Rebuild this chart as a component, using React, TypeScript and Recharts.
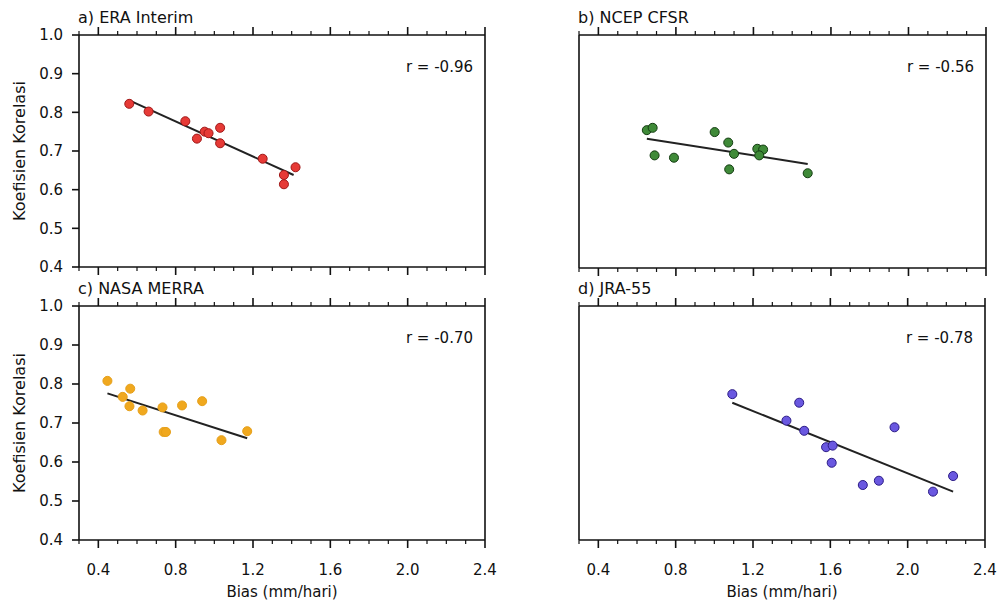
import { ReferenceLine, Scatter, ScatterChart, XAxis, YAxis } from "recharts";

const majorX = [0.4, 0.8, 1.2, 1.6, 2.0, 2.4];
const minorX = [
  0.3, 0.4, 0.5, 0.6, 0.7, 0.8, 0.9, 1.0, 1.1, 1.2, 1.3, 1.4, 1.5, 1.6, 1.7,
  1.8, 1.9, 2.0, 2.1, 2.2, 2.3, 2.4,
];
const yTicks = [0.4, 0.5, 0.6, 0.7, 0.8, 0.9, 1.0];

// a) ERA Interim
const eraBias = [0.56, 0.66, 0.85, 0.91, 0.95, 0.97, 1.03, 1.03, 1.25, 1.36, 1.36, 1.42];
const eraCorr = [0.822, 0.802, 0.777, 0.732, 0.75, 0.746, 0.76, 0.72, 0.68, 0.638, 0.614, 0.658];
const eraFitBias = [0.56, 1.41];
const eraFitCorr = [0.831, 0.638];

// b) NCEP CFSR
const cfsrBias = [0.65, 0.68, 0.69, 0.79, 1.0, 1.07, 1.1, 1.075, 1.22, 1.25, 1.23, 1.48];
const cfsrCorr = [0.755, 0.761, 0.69, 0.684, 0.75, 0.723, 0.694, 0.654, 0.707, 0.705, 0.69, 0.644];
const cfsrFitBias = [0.65, 1.48];
const cfsrFitCorr = [0.733, 0.668];

// c) NASA MERRA
const merraBias = [0.447, 0.565, 0.526, 0.561, 0.629, 0.732, 0.833, 0.937, 0.738, 0.75, 1.037, 1.17];
const merraCorr = [0.808, 0.788, 0.767, 0.743, 0.732, 0.74, 0.745, 0.756, 0.677, 0.677, 0.656, 0.679];
const merraFitBias = [0.447, 1.17];
const merraFitCorr = [0.776, 0.661];

// d) JRA-55
const jraBias = [1.093, 1.439, 1.373, 1.465, 1.578, 1.612, 1.607, 1.932, 1.768, 1.851, 2.131, 2.235];
const jraCorr = [0.774, 0.752, 0.706, 0.68, 0.638, 0.642, 0.598, 0.689, 0.541, 0.552, 0.524, 0.564];
const jraFitBias = [1.093, 2.235];
const jraFitCorr = [0.752, 0.524];

const FONT = "DejaVu Sans";
const INK = "#111";
const LEFT = 79;
const EDGE = 10;

type PanelProps = {
  left: number;
  top: number;
  width: number;
  height: number;
  plotTop: number;
  plotBottom: number;
  plotRight: number;
  title: string;
  r: string;
  bias: number[];
  corr: number[];
  fitBias: number[];
  fitCorr: number[];
  fill: string;
  stroke: string;
  xLabels: boolean;
  yLabels: boolean;
};

// draws minor/major tick marks along a horizontal edge, labels on majors
function xTick(edgeY: number, dir: number, labels: boolean) {
  return (props: any) => {
    const { x, payload } = props;
    const v = Number(payload.value);
    const major = majorX.some((m) => Math.abs(m - v) < 1e-6);
    const len = major ? 8 : 4;
    return (
      <g>
        <line x1={x} x2={x} y1={edgeY} y2={edgeY + dir * len} stroke={INK}
          strokeWidth={major ? 1.6 : 1.2} />
        {major && labels && (
          <text x={x} y={edgeY + 35} textAnchor="middle" fontSize={15} fill={INK}
            fontFamily={FONT}>{v.toFixed(1)}</text>
        )}
      </g>
    );
  };
}

function Panel(p: PanelProps) {
  const data = p.bias.map((b, i) => ({ bias: b, corr: p.corr[i] }));
  const segment = p.fitBias.map((b, i) => ({ x: b, y: p.fitCorr[i] }));
  const bottomSpace = p.height - p.plotBottom;
  const centerX = LEFT + (p.width - p.plotRight - LEFT) / 2;
  const centerY = (p.plotTop + p.plotBottom) / 2;
  const tickStyle = { fontSize: 15, fill: INK, fontFamily: FONT };
  const frame = { stroke: INK, strokeWidth: 1.6 };

  return (
    <div style={{ position: "absolute", left: p.left, top: p.top, width: p.width, height: p.height }}>
      <ScatterChart
        width={p.width}
        height={p.height}
        margin={{ top: p.plotTop - EDGE, right: p.plotRight - EDGE, bottom: 0, left: 0 }}
      >
        <XAxis xAxisId="bottom" type="number" dataKey="bias" domain={[0.3, 2.4]} ticks={minorX}
          height={bottomSpace} tickLine={false} axisLine={frame}
          tick={xTick(p.plotBottom, 1, p.xLabels)} interval={0} allowDataOverflow />
        <XAxis xAxisId="top" orientation="top" type="number" dataKey="bias" domain={[0.3, 2.4]}
          ticks={minorX} height={EDGE} tickLine={false} axisLine={frame}
          tick={xTick(p.plotTop, -1, false)} interval={0} allowDataOverflow />
        <YAxis yAxisId="left" type="number" dataKey="corr" domain={[0.4, 1.0]} ticks={yTicks}
          width={LEFT} tickSize={7} tickMargin={9} interval={0}
          tick={p.yLabels ? tickStyle : false}
          tickFormatter={(v: number) => v.toFixed(1)}
          axisLine={frame} tickLine={frame} allowDataOverflow />
        <YAxis yAxisId="right" orientation="right" type="number" dataKey="corr" domain={[0.4, 1.0]}
          ticks={yTicks} width={EDGE} tick={false} tickSize={7} interval={0}
          axisLine={frame} tickLine={frame} allowDataOverflow />
        <Scatter xAxisId="bottom" yAxisId="left" data={data} fill={p.fill} stroke={p.stroke}
          strokeWidth={1} isAnimationActive={false} />
        <Scatter xAxisId="top" yAxisId="right" data={data} fill="none" stroke="none"
          isAnimationActive={false} legendType="none" />
        <ReferenceLine xAxisId="bottom" yAxisId="left" segment={segment} stroke="#222" strokeWidth={2} />
      </ScatterChart>
      <svg width={p.width} height={p.height}
        style={{ position: "absolute", left: 0, top: 0, pointerEvents: "none", fontFamily: FONT }}>
        <text x={78} y={p.plotTop - 12} fontSize={16} fill={INK}>{p.title}</text>
        <text x={p.width - p.plotRight - 12} y={p.plotTop + 37} fontSize={15} fill={INK} textAnchor="end">{p.r}</text>
        {p.yLabels && (
          <text x={25} y={centerY} fontSize={16} fill={INK} textAnchor="middle"
            transform={`rotate(-90 25 ${centerY})`}>Koefisien Korelasi</text>
        )}
        {p.xLabels && (
          <text x={centerX} y={p.plotBottom + 57} fontSize={15} fill={INK} textAnchor="middle">Bias (mm/hari)</text>
        )}
      </svg>
    </div>
  );
}

export default function App() {
  return (
    <div style={{ position: "absolute", left: 0, top: 0, width: 1005, height: 602, background: "#fff", fontFamily: FONT }}>
      <Panel left={0} top={0} width={500} height={280} plotTop={35} plotBottom={267} plotRight={15}
        title="a) ERA Interim" r="r = -0.96" bias={eraBias} corr={eraCorr}
        fitBias={eraFitBias} fitCorr={eraFitCorr} fill="#e63a36" stroke="#a01818"
        xLabels={false} yLabels />
      <Panel left={500} top={0} width={505} height={280} plotTop={35} plotBottom={268} plotRight={19}
        title="b) NCEP CFSR" r="r = -0.56" bias={cfsrBias} corr={cfsrCorr}
        fitBias={cfsrFitBias} fitCorr={cfsrFitCorr} fill="#3f8a38" stroke="#143d12"
        xLabels={false} yLabels={false} />
      <Panel left={0} top={280} width={500} height={322} plotTop={26} plotBottom={260} plotRight={15}
        title="c) NASA MERRA" r="r = -0.70" bias={merraBias} corr={merraCorr}
        fitBias={merraFitBias} fitCorr={merraFitCorr} fill="#f0a81e" stroke="#e6a01a"
        xLabels yLabels />
      <Panel left={500} top={280} width={505} height={322} plotTop={26} plotBottom={260} plotRight={20}
        title="d) JRA-55" r="r = -0.78" bias={jraBias} corr={jraCorr}
        fitBias={jraFitBias} fitCorr={jraFitCorr} fill="#6a58e0" stroke="#2c1c86"
        xLabels yLabels={false} />
    </div>
  );
}
